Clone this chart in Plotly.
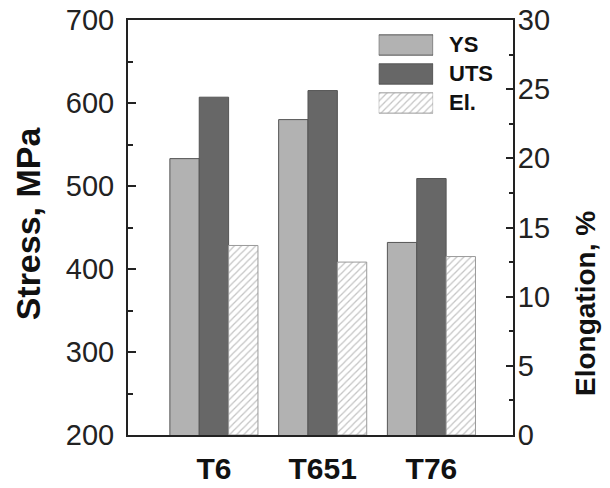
import plotly.graph_objects as go

# Tensile properties for three tempers
TEMPERS = ["T6", "T651", "T76"]
YS = [533, 580, 432]          # yield strength, MPa
UTS = [607, 615, 509]         # ultimate tensile strength, MPa
EL = [13.7, 12.5, 12.9]       # elongation, %
SERIES = ["YS", "UTS", "El."]

STRESS_TICKS = [200, 300, 400, 500, 600, 700]
ELONG_TICKS = [0, 5, 10, 15, 20, 25, 30]

FONT = "Liberation Sans, Arial, sans-serif"
EDGE = "#555555"
C_YS = "#b2b2b2"
C_UTS = "#676767"
HATCH = dict(shape="/", fgcolor="#8a8a8a", bgcolor="white", size=5, solidity=0.25)

BW = 0.27  # width of a single bar in category units

fig = go.Figure()

fig.add_trace(go.Bar(x=TEMPERS, y=YS, base=0, width=BW, offset=-1.5 * BW,
                     marker=dict(color=C_YS, line=dict(color=EDGE, width=1)),
                     name=SERIES[0], showlegend=False, yaxis="y"))
fig.add_trace(go.Bar(x=TEMPERS, y=UTS, base=0, width=BW, offset=-0.5 * BW,
                     marker=dict(color=C_UTS, line=dict(color=EDGE, width=1)),
                     name=SERIES[1], showlegend=False, yaxis="y"))
fig.add_trace(go.Bar(x=TEMPERS, y=EL, base=0, width=BW, offset=0.5 * BW,
                     marker=dict(color="white", pattern=HATCH, line=dict(color="#9a9a9a", width=1)),
                     name=SERIES[2], showlegend=False, yaxis="y2"))

# Legend swatches drawn as bars on a small hidden axis pair
for i, (name, col) in enumerate(zip(SERIES, [C_YS, C_UTS, "white"])):
    mk = dict(color=col, line=dict(color=EDGE if i < 2 else "#9a9a9a", width=1))
    if i == 2:
        mk["pattern"] = HATCH
    fig.add_trace(go.Bar(x=[1], y=[i], base=0, orientation="h", width=0.7,
                         marker=mk, showlegend=False, hoverinfo="skip",
                         xaxis="x3", yaxis="y3"))
    fig.add_annotation(x=1, y=i, xref="x3", yref="y3", xanchor="left", yanchor="middle",
                       xshift=14, text=name, showarrow=False,
                       font=dict(family=FONT, size=22, color="#111111", weight="bold"))

axis_line = dict(showline=True, linecolor="#222222", linewidth=2, zeroline=False,
                 showgrid=False, automargin=False)

fig.update_layout(
    width=610, height=488,
    margin=dict(l=128, r=97, t=20, b=53),
    paper_bgcolor="white", plot_bgcolor="white",
    barmode="overlay",
    font=dict(family=FONT, color="#222222"),
    xaxis=dict(type="category", range=[-0.79, 2.75], ticks="", mirror=True,
               tickfont=dict(family=FONT, size=30, color="#111111", weight="bold"),
               ticklabelstandoff=6, **axis_line),
    yaxis=dict(range=[200, 700], tickvals=STRESS_TICKS, ticks="inside", ticklen=8,
               tickwidth=1.5, tickcolor="#222222",
               minor=dict(ticks="inside", ticklen=5, tickwidth=1.5, dtick=50, tickcolor="#222222"),
               tickfont=dict(family=FONT, size=29, color="#222222"),
               ticklabelstandoff=6, **axis_line),
    yaxis2=dict(range=[0, 30], tickvals=ELONG_TICKS, overlaying="y", side="right",
                ticks="inside", ticklen=7, tickwidth=1.5, tickcolor="#222222",
                minor=dict(ticks="inside", ticklen=4, tickwidth=1.5, dtick=2.5, tickcolor="#222222"),
                tickfont=dict(family=FONT, size=29, color="#222222"),
                ticklabelstandoff=-3, **axis_line),
    xaxis3=dict(domain=[0.6512, 0.7926], range=[0, 1], visible=False, anchor="y3"),
    yaxis3=dict(domain=[0.7651, 0.9747], range=[2.5, -0.5], visible=False, anchor="x3"),
)

fig.add_annotation(text="Stress, MPa", xref="paper", yref="paper", x=-0.2597, y=0.51,
                   xanchor="center", yanchor="middle", textangle=-90, showarrow=False,
                   font=dict(family=FONT, size=34, color="#111111", weight="bold"))
fig.add_annotation(text="Elongation, %", xref="paper", yref="paper", x=1.19, y=0.316,
                   xanchor="center", yanchor="middle", textangle=-90, showarrow=False,
                   font=dict(family=FONT, size=28, color="#111111", weight="bold"))

fig.write_html("out.html")
